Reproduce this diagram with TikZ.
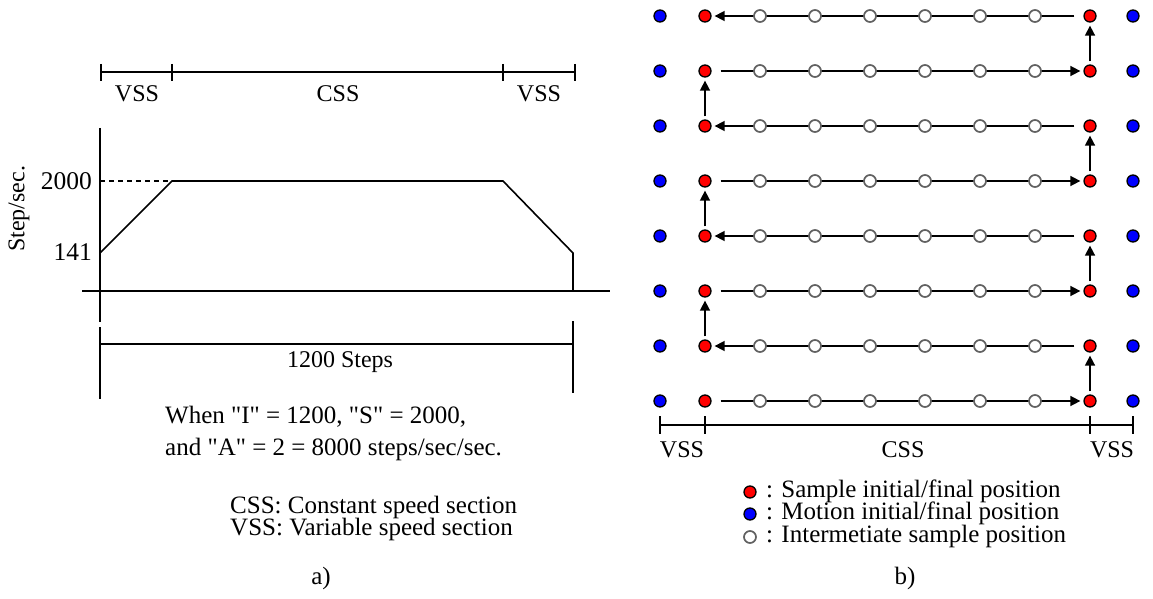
\documentclass[tikz,border=0pt]{standalone}
\usepackage{fontspec}
\setmainfont{Liberation Serif}[Ligatures=TeXOff]
\usetikzlibrary{arrows.meta}
\begin{document}
\begin{tikzpicture}[x=1pt,y=-1pt,
  ln/.style={line width=1.6pt,black},
  txt/.style={font=\fontsize{24}{26}\selectfont,inner sep=0pt},
  num/.style={font=\fontsize{25.5}{26}\selectfont,inner sep=0pt},
  body/.style={font=\fontsize{25}{21}\selectfont,inner sep=0pt},
  tight/.style={body,text height=14pt,text depth=3.5pt},
  reddot/.style={circle,fill=red,draw=black,line width=1.3pt,minimum size=12pt,inner sep=0pt},
  bluedot/.style={circle,fill=blue,draw=black,line width=1.3pt,minimum size=12pt,inner sep=0pt},
  graydot/.style={circle,fill=white,draw=black!62,line width=1.7pt,minimum size=12pt,inner sep=0pt},
  arr/.style={ln,-{Triangle[length=10pt,width=10pt]}},
  harr/.style={arr,shorten <=9pt,shorten >=3pt},
  varr/.style={arr,shorten <=3pt,shorten >=3pt}]
\useasboundingbox (0,0) rectangle (1153,599);

% ---------------- panel a) ----------------
% top bracket
\draw[ln] (101,72) -- (575,72);
\foreach \x in {101,172,503,575} \draw[ln] (\x,64) -- (\x,81);
\node[txt] (vss1) at (137,94) {VSS};
\node[txt] (css1) at (338,94) {CSS};
\node[txt] (vss2) at (539,94) {VSS};
% axes
\draw[ln] (100,128) -- (100,322);
\draw[ln] (100,327) -- (100,399);
\draw[ln] (82,291) -- (610,291);
% profile
\draw[ln,dashed,dash pattern=on 5pt off 4pt] (100,181) -- (172,181);
\draw[ln,line join=miter] (100,253) -- (172,181) -- (503,181) -- (573,253) -- (573,291);
\node[num,anchor=east] (v2000) at (92,181) {2000};
\node[num,anchor=east] (v141) at (92,252) {141};
\node[txt,rotate=90] (ylab) at (19,209) {Step/sec.};
% bottom bracket
\draw[ln] (100,344) -- (573,344);
\draw[ln] (573,321) -- (573,393);
\node[txt] (steps) at (340,362) {1200 Steps};
\node[body,anchor=west] (when) at (165,417) {When "I" = 1200, "S" = 2000,};
\node[body,anchor=west] (and) at (165,449) {and "A" = 2 = 8000 steps/sec/sec.};
\node[tight,anchor=west] (cssdef) at (230,508) {CSS: Constant speed section};
\node[tight,anchor=west] (vssdef) at (230,530) {VSS: Variable speed section};
\node[body] (capa) at (321,578) {a)};

% ---------------- panel b) ----------------
\foreach \i/\y in {1/16,2/71,3/126,4/181,5/236,6/291,7/346,8/401} {
  \node[bluedot] (bL\i) at (660,\y) {};
  \node[bluedot] (bR\i) at (1133,\y) {};
  \node[reddot] (rL\i) at (705,\y) {};
  \node[reddot] (rR\i) at (1090,\y) {};
}
% horizontal passes
\foreach \i in {1,3,5,7} \draw[harr] (rR\i) -- (rL\i);
\foreach \i in {2,4,6,8} \draw[harr] (rL\i) -- (rR\i);
% vertical steps
\foreach \a/\b in {8/7,6/5,4/3,2/1} \draw[varr] (rR\a) -- (rR\b);
\foreach \a/\b in {7/6,5/4,3/2} \draw[varr] (rL\a) -- (rL\b);
% intermediate positions
\foreach \i/\y in {1/16,2/71,3/126,4/181,5/236,6/291,7/346,8/401}
  \foreach \j/\x in {1/760,2/815,3/870,4/925,5/980,6/1035}
    \node[graydot] (g\i-\j) at (\x,\y) {};
% bottom bracket
\draw[ln] (660,425) -- (1133,425);
\foreach \x in {660,705,1090,1133} \draw[ln] (\x,416) -- (\x,434);
\node[txt] (vss3) at (682,450) {VSS};
\node[txt] (css2) at (903,450) {CSS};
\node[txt] (vss4) at (1112,450) {VSS};
% legend
\node[reddot] (lr) at (750,492) {};
\node[bluedot] (lb) at (750,514) {};
\node[graydot] (lg) at (750,537) {};
\node[tight,anchor=west] (tr) at (766,492) {: Sample initial/final position};
\node[tight,anchor=west] (tb) at (766,514) {: Motion initial/final position};
\node[tight,anchor=west] (tg) at (766,537) {: Intermetiate sample position};
\node[body] (capb) at (905,578) {b)};
\end{tikzpicture}
\end{document}
